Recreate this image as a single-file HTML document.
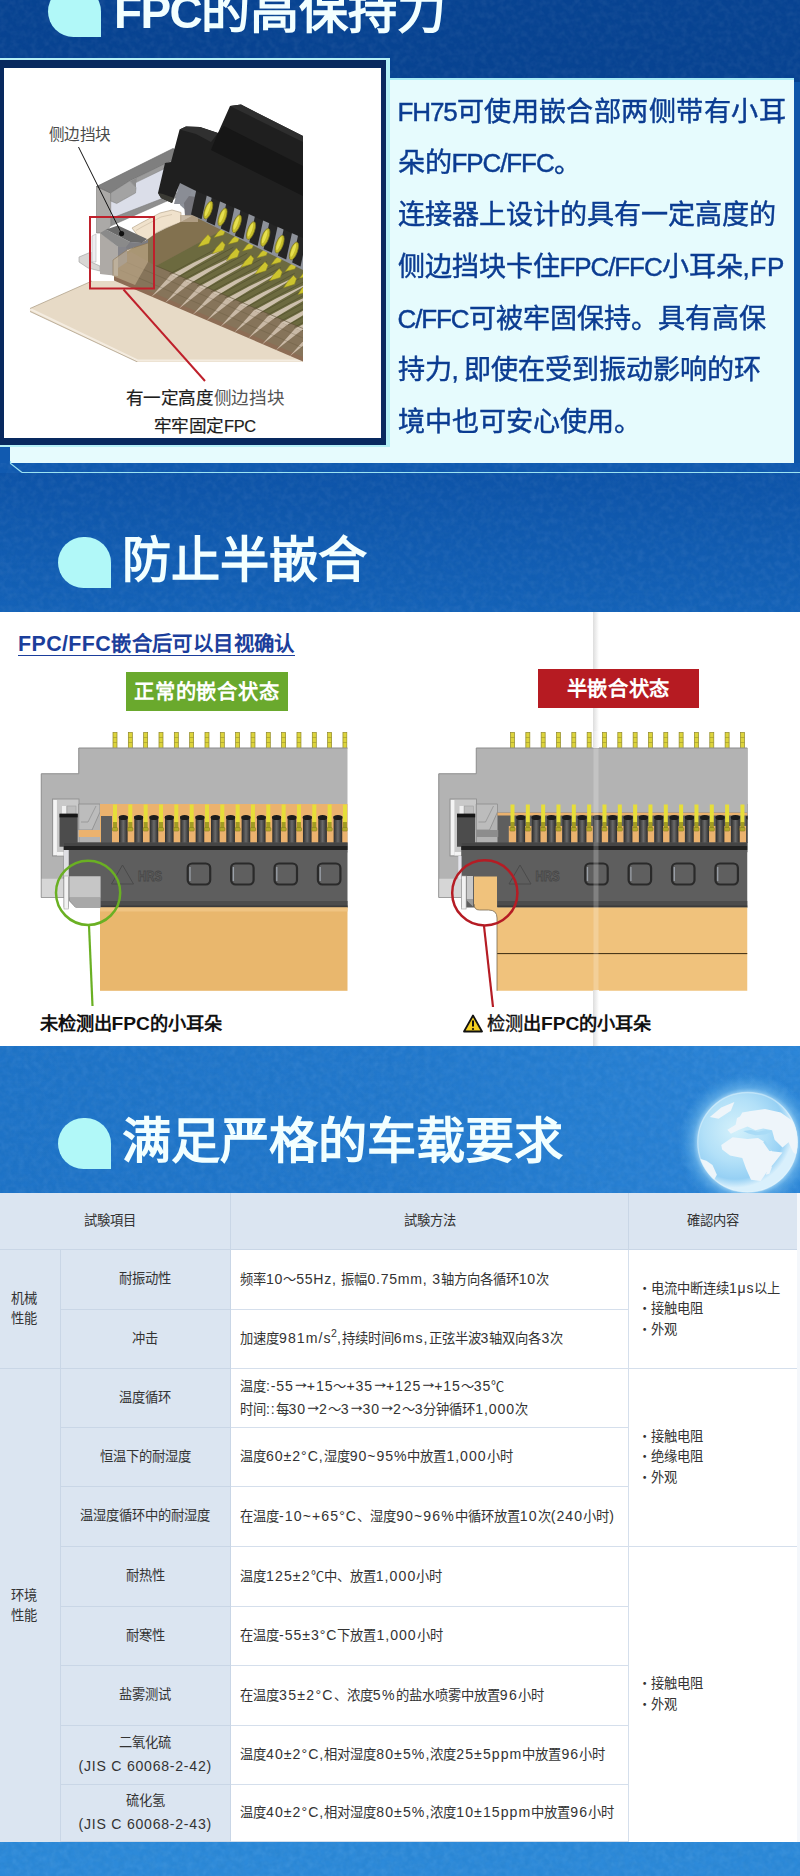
<!DOCTYPE html>
<html lang="zh-CN">
<head>
<meta charset="utf-8">
<title>FH75</title>
<style>
*{box-sizing:border-box;margin:0;padding:0}
html,body{width:800px;height:1876px;overflow:hidden;background:#1460b4}
body{position:relative;font-family:"Liberation Sans",sans-serif;color:#333}
.abs{position:absolute}
.sec{position:absolute;left:0;width:800px}
#s1{top:0;height:463px;background:#084392}
#s1b{top:463px;height:10px;background:#115ab0}
#s2{top:473px;height:139px;background:linear-gradient(#0e54a9,#1563b9)}
#w2{top:612px;height:434px;background:#fff}
#s3{top:1046px;height:148px;background:linear-gradient(90deg,#1f74c8,#2379cd 50%,#2c86d8)}
#s4{top:1842px;height:34px;background:#2d8ad9}
.h{position:absolute;color:#f2ffff;font-size:49.2px;font-weight:700;line-height:50px;white-space:nowrap;letter-spacing:0}
.bul{position:absolute;width:53px;height:51px;background:#b1f8f8;border-radius:26px 26px 0 26px}

.h{-webkit-text-stroke:0}
.h .l{font-size:46px;letter-spacing:-1.7px}
#tp{left:10px;top:78px;width:784px;height:385px;background:#e6fbfd;border-top:2px solid #a8ecf6}
#tpside{left:794px;top:82px;width:6px;height:381px;background:#0f56a9}
#ipo{left:0;top:58px;width:390px;height:389px;background:#b4f0f6}
#ipn{left:0;top:60px;width:386px;height:385px;background:#08295f}
#ipw{left:4px;top:68px;width:377px;height:370px;background:#fff}
#para{left:397.5px;top:85.5px;width:400px;font-size:27.1px;line-height:51.8px;color:#0b3c91;white-space:nowrap;-webkit-text-stroke:0.45px #0b3c91}
#para .l{font-size:26px;letter-spacing:-1.1px;line-height:0}
#para .w{letter-spacing:0.45px}
#ln1{left:22px;top:472px;width:778px;height:1px;background:#9be3f2}

#t2{left:18px;top:632.5px;font-size:20.4px;letter-spacing:.4px;line-height:22px;font-weight:bold;color:#1b3e9b;white-space:nowrap;border-bottom:1.5px solid #1b3e9b;padding-bottom:0}
#t2 .l{font-size:21.4px}
.tag{position:absolute;color:#fff;font-weight:bold;font-size:20.3px;letter-spacing:.7px;text-indent:.7px;text-align:center;white-space:nowrap}
#tagg{left:125.5px;top:672px;width:162px;height:39px;line-height:41.5px;background:#6aa92d}
#tagr{left:537.5px;top:669px;width:161px;height:39px;line-height:41.5px;background:#b61b22}
.cap{position:absolute;font-size:18.2px;line-height:22px;font-weight:bold;color:#111;white-space:nowrap}
.cap .l{font-size:19.2px}

.il{position:absolute;white-space:nowrap;color:#4a4a4a}

#tb{position:absolute;left:0;top:1193px;width:797px;height:649px;background:#fff;font-size:13.3px;color:#333;line-height:20px}
#tbr{position:absolute;left:797px;top:1193px;width:3px;height:649px;background:#f4f7fb}
#tb div{position:absolute;white-space:nowrap}
#tb .c{background:#dbe5f1;display:flex;align-items:center;justify-content:center;text-align:center;border-right:1px solid #c9d6e6;border-bottom:1px solid #c9d6e6}
#tb .w{background:#fff;display:flex;align-items:center;border-right:1px solid #d5dfec;border-bottom:1px solid #d5dfec;padding-left:9px}
#tb i{font-style:normal;font-size:14.1px;letter-spacing:var(--ls,.75px)}
#tb b{font-weight:normal;font-size:17.5px;line-height:0;letter-spacing:-3.5px;margin-left:-1.5px;margin-right:.5px;position:relative;top:-2.6px;-webkit-text-stroke:.25px #333}
#tb sup{font-size:10.5px;line-height:0;vertical-align:6.5px;margin-left:-.5px;letter-spacing:0}
#tb .k{text-align:left;margin-left:-11px;line-height:20px}
#tb .n,#tb .m{line-height:22.5px}
#tb .r{line-height:20.5px}
</style>
</head>
<body>
<div class="sec" id="s1"></div>
<div class="sec" id="s1b"></div>
<div class="sec" id="s2"></div>
<div class="sec" id="w2"></div>
<div class="sec" id="s3"></div>
<div class="sec" id="s4"></div>
<!--NZ-->
<svg class="abs" style="left:0;top:0" width="800" height="1876" viewBox="0 0 800 1876">
<defs><filter id="nz" x="0" y="0" width="100%" height="100%"><feTurbulence type="fractalNoise" baseFrequency="0.16" numOctaves="2" seed="7" result="t"/><feColorMatrix type="matrix" values="0 0 0 0 1  0 0 0 0 1  0 0 0 0 1  1.6 0 0 0 -0.55"/></filter>
<filter id="nz2" x="0" y="0" width="100%" height="100%"><feTurbulence type="fractalNoise" baseFrequency="0.16" numOctaves="2" seed="23" result="t"/><feColorMatrix type="matrix" values="0 0 0 0 0  0 0 0 0 0.1  0 0 0 0 0.3  1.6 0 0 0 -0.55"/></filter></defs>
<g opacity=".07"><rect width="800" height="612" filter="url(#nz)"/><rect y="1046" width="800" height="148" filter="url(#nz)"/><rect y="1842" width="800" height="34" filter="url(#nz)"/></g>
<g opacity=".10"><rect width="800" height="612" filter="url(#nz2)"/><rect y="1046" width="800" height="148" filter="url(#nz2)"/><rect y="1842" width="800" height="34" filter="url(#nz2)"/></g>
</svg>
<!--/NZ-->


<!-- section 1 panels -->
<div class="abs" style="left:0;top:445px;width:12px;height:18px;background:#115ab0"></div>
<div class="abs" id="tp"></div>
<div class="abs" id="tpside"></div>
<div class="abs" id="ln1"></div>
<svg class="abs" style="left:8px;top:461px" width="18" height="14" viewBox="0 0 18 14"><path d="M2.5 0 L2.5 2.5 L14 11.5" fill="none" stroke="#9be3f2" stroke-width="1.2"/></svg>
<div class="abs" id="ipo"></div>
<div class="abs" id="ipn"></div>
<div class="abs" id="ipw"></div>

<!--ILL-->
<svg class="abs" style="left:4px;top:68px" width="377" height="370" viewBox="4 68 377 370">
<defs><clipPath id="ic"><rect x="28" y="100" width="275" height="262"/></clipPath>
</defs>
<g clip-path="url(#ic)">
<path d="M30 308.5 L92 281 L303 281 L303 362 L137.5 362 L30 311.5 Z" fill="#e7dac6"/>
<path d="M30 309L137.5 360.5H303" fill="none" stroke="#f4ece0" stroke-width="2.2"/>
<path d="M30 308.5L92 281M30 311.5L137.5 362" fill="none" stroke="#a89880" stroke-width=".7"/>
<path d="M110.7 199 L116.7 203.5 L135.5 193 L136 182.5 L172 164 L182 166 L182 192 L166 197.5 L110.7 219 Z" fill="#dbdee9"/>
<path d="M110.7 218.5 L166 197 L182 191 L182 195.5 L166 201.5 L110.7 226 Z" fill="#8e8e8e" stroke="#747474" stroke-width=".5"/>
<path d="M96.5 186.5 L110.7 193 L110.7 226 L104 233 L96.5 233 Z" fill="#aba9a7" stroke="#7c7a78" stroke-width=".6"/>
<path d="M96.5 186.5 L173 148.5 L180 151.5 L172 160.5 L136 178 L129.5 181 L110.7 193 Z" fill="#7f7f7f" stroke="#646464" stroke-width=".6"/>
<path d="M110.7 193 L129.5 181 L136 187.7 L135.5 193 L116.7 203.5 L110.7 201 Z" fill="#a3a3a3" stroke="#777" stroke-width=".5"/>
<path d="M136 178 L172 160.5 L172 165 L136 182.5 Z" fill="#9b9b9b" stroke="#777" stroke-width=".4"/>
<path d="M129.5 181 L136 178 L136 187.7 Z" fill="#8d8d8d"/>
<path d="M79 257 L91 252 L91 262 L100 266 L100 271 L88 268 L79 262 Z" fill="#d8d6d4" stroke="#9a9a9a" stroke-width=".6"/>
<path d="M92 236 L96 234 L96 262 L92 262 Z" fill="#ededf0" stroke="#aaa" stroke-width=".5"/>
<path d="M132 228 L140 223.5 L160 213 L172 210 L181 212.5 L181 222 L166 228 L156 233 L147 240 L140 238.5 Z" fill="#f0e2cc" stroke="#b7a78e" stroke-width=".7"/>
<path d="M136 230.5L142 227L161 217L172 214.5" stroke="#c9b99f" stroke-width=".6" fill="none"/>
<path d="M114 258 L128 251 L147 240 L156 233.5 L166 228.5 L180 222.5 L192 216 L303 250 L303 358 L114 277 Z" fill="#86745a"/>
<path d="M114 258 L128 251 L147 240 L156 233.5 L166 228.5 L180 222.5 L192 216 L212 214 L226 228 L156 266 L131 252 L114 262 Z" fill="#82714f"/>
<path d="M156 266 L226 228 L210 213 L303 252 L303 328.5 Z" fill="#6c6a3f"/>
<path d="M114 276 L303 357 L303 361.5 L114 280.5 Z" fill="#8d6d55"/>
<path d="M170.6 275.1 L176.2 277.5 L150.9 297.3 Z" fill="#cfbfad" opacity=".92"/>
<path d="M170.6 275.1 L193.4 262.8 L220.4 249.8 L221 250.9 L195.4 265.8 L176.2 277.5 Z" fill="#d6c8b6" opacity=".92"/>
<path d="M177.4 277.5L233.4 247.3M169.4 274.1L225.4 243.8" stroke="#3f3b20" stroke-width=".5" opacity=".75" fill="none"/>
<path d="M184.4 281 L190.1 283.4 L164.8 303.2 Z" fill="#cfbfad" opacity=".92"/>
<path d="M184.4 281 L207.2 268.7 L234.2 255.7 L234.8 256.8 L209.2 271.7 L190.1 283.4 Z" fill="#d6c8b6" opacity=".92"/>
<path d="M191.2 283.4L247.2 253.2M183.2 280L239.2 249.7" stroke="#3f3b20" stroke-width=".5" opacity=".75" fill="none"/>
<path d="M198.3 286.9 L203.9 289.3 L178.6 309.1 Z" fill="#cfbfad" opacity=".92"/>
<path d="M198.3 286.9 L221.1 274.6 L248.1 261.6 L248.7 262.7 L223.1 277.6 L203.9 289.3 Z" fill="#d6c8b6" opacity=".92"/>
<path d="M205.1 289.3L261.1 259.1M197.1 285.9L253.1 255.6" stroke="#3f3b20" stroke-width=".5" opacity=".75" fill="none"/>
<path d="M212.1 292.9 L217.8 295.3 L192.4 315.1 Z" fill="#cfbfad" opacity=".92"/>
<path d="M212.1 292.9 L234.9 280.6 L261.9 267.6 L262.6 268.7 L236.9 283.6 L217.8 295.3 Z" fill="#d6c8b6" opacity=".92"/>
<path d="M218.9 295.3L274.9 265.1M210.9 291.9L266.9 261.6" stroke="#3f3b20" stroke-width=".5" opacity=".75" fill="none"/>
<path d="M226 298.8 L231.6 301.2 L206.3 321 Z" fill="#cfbfad" opacity=".92"/>
<path d="M226 298.8 L248.8 286.5 L275.8 273.5 L276.4 274.6 L250.8 289.5 L231.6 301.2 Z" fill="#d6c8b6" opacity=".92"/>
<path d="M232.8 301.2L288.8 271M224.8 297.8L280.8 267.5" stroke="#3f3b20" stroke-width=".5" opacity=".75" fill="none"/>
<path d="M239.8 304.7 L245.5 307.1 L220.2 326.9 Z" fill="#cfbfad" opacity=".92"/>
<path d="M239.8 304.7 L262.6 292.4 L289.6 279.4 L290.2 280.5 L264.6 295.4 L245.5 307.1 Z" fill="#d6c8b6" opacity=".92"/>
<path d="M246.7 307.1L302.6 276.9M238.7 303.7L294.6 273.4" stroke="#3f3b20" stroke-width=".5" opacity=".75" fill="none"/>
<path d="M253.7 310.6 L259.3 313 L234 332.8 Z" fill="#cfbfad" opacity=".92"/>
<path d="M253.7 310.6 L276.5 298.3 L303.5 285.3 L304.1 286.4 L278.5 301.3 L259.3 313 Z" fill="#d6c8b6" opacity=".92"/>
<path d="M260.5 313L316.5 282.8M252.5 309.6L308.5 279.3" stroke="#3f3b20" stroke-width=".5" opacity=".75" fill="none"/>
<path d="M267.6 316.5 L273.2 318.9 L247.9 338.7 Z" fill="#cfbfad" opacity=".92"/>
<path d="M267.6 316.5 L290.4 304.2 L317.4 291.2 L318 292.3 L292.4 307.2 L273.2 318.9 Z" fill="#d6c8b6" opacity=".92"/>
<path d="M274.4 318.9L330.4 288.7M266.4 315.5L322.4 285.2" stroke="#3f3b20" stroke-width=".5" opacity=".75" fill="none"/>
<path d="M281.4 322.5 L287 324.9 L261.7 344.7 Z" fill="#cfbfad" opacity=".92"/>
<path d="M281.4 322.5 L304.2 310.2 L331.2 297.2 L331.8 298.3 L306.2 313.2 L287 324.9 Z" fill="#d6c8b6" opacity=".92"/>
<path d="M288.2 324.9L344.2 294.7M280.2 321.5L336.2 291.2" stroke="#3f3b20" stroke-width=".5" opacity=".75" fill="none"/>
<path d="M295.2 328.4 L300.9 330.8 L275.6 350.6 Z" fill="#cfbfad" opacity=".92"/>
<path d="M295.2 328.4 L318.1 316.1 L345.1 303.1 L345.7 304.2 L320.1 319.1 L300.9 330.8 Z" fill="#d6c8b6" opacity=".92"/>
<path d="M302.1 330.8L358.1 300.6M294.1 327.4L350.1 297.1" stroke="#3f3b20" stroke-width=".5" opacity=".75" fill="none"/>
<path d="M309.1 334.3 L314.7 336.7 L289.4 356.5 Z" fill="#cfbfad" opacity=".92"/>
<path d="M309.1 334.3 L331.9 322 L358.9 309 L359.5 310.1 L333.9 325 L314.7 336.7 Z" fill="#d6c8b6" opacity=".92"/>
<path d="M315.9 336.7L371.9 306.5M307.9 333.3L363.9 303" stroke="#3f3b20" stroke-width=".5" opacity=".75" fill="none"/>
<path d="M322.9 340.2 L328.6 342.6 L303.2 362.4 Z" fill="#cfbfad" opacity=".92"/>
<path d="M322.9 340.2 L345.8 327.9 L372.8 314.9 L373.4 316 L347.8 330.9 L328.6 342.6 Z" fill="#d6c8b6" opacity=".92"/>
<path d="M329.8 342.6L385.8 312.4M321.8 339.2L377.8 308.9" stroke="#3f3b20" stroke-width=".5" opacity=".75" fill="none"/>
<path d="M155.6 265.6L303 328.5" stroke="#5a4e34" stroke-width=".7" opacity=".8"/>
<path d="M120 270L303 348M126 262L303 338" stroke="#5a4e34" stroke-width=".45" opacity=".6" fill="none"/>
<path d="M198 247 L202 241 L208 234.5 L211 238 L209 243.5 Z" fill="#cdc42e" stroke="#8a8420" stroke-width=".5"/>
<path d="M212.2 253.8 L216.2 247.8 L222.2 241.3 L225.2 244.8 L223.2 250.3 Z" fill="#cdc42e" stroke="#8a8420" stroke-width=".5"/>
<path d="M226.5 260.6 L230.5 254.6 L236.5 248.1 L239.5 251.6 L237.5 257.1 Z" fill="#cdc42e" stroke="#8a8420" stroke-width=".5"/>
<path d="M240.8 267.4 L244.8 261.4 L250.8 254.9 L253.8 258.4 L251.8 263.9 Z" fill="#cdc42e" stroke="#8a8420" stroke-width=".5"/>
<path d="M255 274.2 L259 268.2 L265 261.7 L268 265.2 L266 270.7 Z" fill="#cdc42e" stroke="#8a8420" stroke-width=".5"/>
<path d="M269.2 281 L273.2 275 L279.2 268.5 L282.2 272 L280.2 277.5 Z" fill="#cdc42e" stroke="#8a8420" stroke-width=".5"/>
<path d="M283.5 287.8 L287.5 281.8 L293.5 275.3 L296.5 278.8 L294.5 284.3 Z" fill="#cdc42e" stroke="#8a8420" stroke-width=".5"/>
<path d="M297.8 294.6 L301.8 288.6 L307.8 282.1 L310.8 285.6 L308.8 291.1 Z" fill="#cdc42e" stroke="#8a8420" stroke-width=".5"/>
<path d="M214 237.5 L218 232 L223 227.5 L225.5 230.5 L223.5 235 Z" fill="#cdc42e" stroke="#8a8420" stroke-width=".5"/>
<path d="M228.2 244.3 L232.2 238.8 L237.2 234.3 L239.8 237.3 L237.8 241.8 Z" fill="#cdc42e" stroke="#8a8420" stroke-width=".5"/>
<path d="M242.5 251.1 L246.5 245.6 L251.5 241.1 L254 244.1 L252 248.6 Z" fill="#cdc42e" stroke="#8a8420" stroke-width=".5"/>
<path d="M256.8 257.9 L260.8 252.4 L265.8 247.9 L268.2 250.9 L266.2 255.4 Z" fill="#cdc42e" stroke="#8a8420" stroke-width=".5"/>
<path d="M271 264.7 L275 259.2 L280 254.7 L282.5 257.7 L280.5 262.2 Z" fill="#cdc42e" stroke="#8a8420" stroke-width=".5"/>
<path d="M285.2 271.5 L289.2 266 L294.2 261.5 L296.8 264.5 L294.8 269 Z" fill="#cdc42e" stroke="#8a8420" stroke-width=".5"/>
<path d="M299.5 278.3 L303.5 272.8 L308.5 268.3 L311 271.3 L309 275.8 Z" fill="#cdc42e" stroke="#8a8420" stroke-width=".5"/>
<path d="M313.8 285.1 L317.8 279.6 L322.8 275.1 L325.2 278.1 L323.2 282.6 Z" fill="#cdc42e" stroke="#8a8420" stroke-width=".5"/>
<path d="M100 232 L118 247 L118 276 L100 274 Z" fill="#aeaaa6"/>
<path d="M118 247 L127 246.5 L127 262 L118 268 Z" fill="#85858b"/>
<path d="M100 233 L106 229.5 L131 242.5 L127 247 L118 247 Z" fill="#8a8a8a"/>
<path d="M106 229.5 L118 225.5 L147 239 L142 243 L131 242.5 Z" fill="#696969"/>
<path d="M126 247 L130 242 L142 243 L148 239.5 L148 243 L127 250 Z" fill="#7d7d82"/>
<path d="M113 260 L127 250 L148 243 L148 262 L135 285 L113 276 Z" fill="#cbb594" opacity=".55"/>
<path d="M113 260L127 250L148 243M113 260V276" stroke="#8a7658" stroke-width=".6" fill="none"/>
<path d="M178 178 L303 232 L303 270 L191 215 L180 205 Z" fill="#8d9199"/>
<path d="M180 181 L193 187 L186 204 L174 204 Z" fill="#8a8d95"/>
<path d="M184 203 L189 196 L196 197 L196 216 L185 216 Z" fill="#74747a"/>
<path d="M180 215 L198 215 L198 222 L180 222 Z" fill="#b9a88e" opacity=".8"/>
<path d="M191 214.4 L197.5 184.4 L208.1 189.3 L201.6 219.3 Z" fill="#252525"/>
<path d="M206.5 221.8 L213 191.8 L221.3 195.6 L214.8 225.6 Z" fill="#252525"/>
<path d="M220.8 228.6 L227.3 198.6 L235.6 202.4 L229.1 232.4 Z" fill="#252525"/>
<path d="M235 235.4 L241.5 205.4 L249.8 209.2 L243.3 239.2 Z" fill="#252525"/>
<path d="M249.3 242.2 L255.8 212.2 L264.1 216 L257.6 246 Z" fill="#252525"/>
<path d="M263.6 249 L270.1 219 L278.4 222.8 L271.9 252.8 Z" fill="#252525"/>
<path d="M277.9 255.8 L284.4 225.8 L292.7 229.6 L286.2 259.6 Z" fill="#252525"/>
<path d="M292.2 262.6 L298.7 232.6 L307 236.4 L300.5 266.4 Z" fill="#252525"/>
<path d="M306.4 269.4 L312.9 239.4 L321.2 243.2 L314.7 273.2 Z" fill="#252525"/>
<ellipse cx="208.2" cy="210.2" rx="3.5" ry="9.4" transform="rotate(20 208.2 210.2)" fill="#c6bd2a" stroke="#7e781e" stroke-width=".7"/>
<ellipse cx="207.4" cy="209.7" rx="1.6" ry="7" transform="rotate(20 208.2 210.2)" fill="#eee85a" opacity=".8"/>
<ellipse cx="222.5" cy="217" rx="3.5" ry="9.4" transform="rotate(20 222.5 217)" fill="#c6bd2a" stroke="#7e781e" stroke-width=".7"/>
<ellipse cx="221.7" cy="216.5" rx="1.6" ry="7" transform="rotate(20 222.5 217)" fill="#eee85a" opacity=".8"/>
<ellipse cx="236.8" cy="223.8" rx="3.5" ry="9.4" transform="rotate(20 236.8 223.8)" fill="#c6bd2a" stroke="#7e781e" stroke-width=".7"/>
<ellipse cx="236" cy="223.3" rx="1.6" ry="7" transform="rotate(20 236.8 223.8)" fill="#eee85a" opacity=".8"/>
<ellipse cx="251" cy="230.6" rx="3.5" ry="9.4" transform="rotate(20 251 230.6)" fill="#c6bd2a" stroke="#7e781e" stroke-width=".7"/>
<ellipse cx="250.2" cy="230.1" rx="1.6" ry="7" transform="rotate(20 251 230.6)" fill="#eee85a" opacity=".8"/>
<ellipse cx="265.3" cy="237.4" rx="3.5" ry="9.4" transform="rotate(20 265.3 237.4)" fill="#c6bd2a" stroke="#7e781e" stroke-width=".7"/>
<ellipse cx="264.5" cy="236.9" rx="1.6" ry="7" transform="rotate(20 265.3 237.4)" fill="#eee85a" opacity=".8"/>
<ellipse cx="279.6" cy="244.2" rx="3.5" ry="9.4" transform="rotate(20 279.6 244.2)" fill="#c6bd2a" stroke="#7e781e" stroke-width=".7"/>
<ellipse cx="278.8" cy="243.7" rx="1.6" ry="7" transform="rotate(20 279.6 244.2)" fill="#eee85a" opacity=".8"/>
<ellipse cx="293.9" cy="251" rx="3.5" ry="9.4" transform="rotate(20 293.9 251)" fill="#c6bd2a" stroke="#7e781e" stroke-width=".7"/>
<ellipse cx="293.1" cy="250.5" rx="1.6" ry="7" transform="rotate(20 293.9 251)" fill="#eee85a" opacity=".8"/>
<ellipse cx="308.2" cy="257.8" rx="3.5" ry="9.4" transform="rotate(20 308.2 257.8)" fill="#c6bd2a" stroke="#7e781e" stroke-width=".7"/>
<ellipse cx="307.4" cy="257.3" rx="1.6" ry="7" transform="rotate(20 308.2 257.8)" fill="#eee85a" opacity=".8"/>
<ellipse cx="322.4" cy="264.6" rx="3.5" ry="9.4" transform="rotate(20 322.4 264.6)" fill="#c6bd2a" stroke="#7e781e" stroke-width=".7"/>
<ellipse cx="321.6" cy="264.1" rx="1.6" ry="7" transform="rotate(20 322.4 264.6)" fill="#eee85a" opacity=".8"/>
<path d="M179.6 129.4 L186 126.6 L200 127 L218 133 L230 106 L241 104.6 L303 136 L303 238 L194 190 L180 183 L172 203 L161 198 L158 193 L165 163 L171 162 Z" fill="#1f1f1f"/>
<path d="M179.6 129.4 L186 126.6 L200 127 L218 133 L211 142 L196 134 Z" fill="#303030"/>
<path d="M230 106 L241 104.6 L303 136 L303 142 L238 110 Z" fill="#2e2e2e"/>
<path d="M218 133 L224 126 L303 166 L303 196 L211 150 Z" fill="#161616"/>
<path d="M158 193 L161 198 L172 203 L174 198 L163 194 Z" fill="#3a3a34"/>
</g>
<rect x="90" y="217" width="64" height="71.5" fill="none" stroke="#bf202b" stroke-width="2"/>
<path d="M123.5 289.5L205 381" stroke="#bf202b" stroke-width="2"/>
<path d="M78.5 147L121.3 233" stroke="#111" stroke-width="1"/><circle cx="121.6" cy="233.6" r="2.6" fill="#111"/>
</svg>
<!--/ILL-->
<div class="il" style="left:49px;top:126px;font-size:15.6px;letter-spacing:-.7px;line-height:18px">侧边挡块</div>
<div class="il" style="left:125.5px;top:386.7px;font-size:17.6px;letter-spacing:-.35px;line-height:22px;color:#1d1d1d"><span style="-webkit-text-stroke:.2px #1d1d1d">有一定高度</span><span style="color:#555">侧边挡块</span></div>
<div class="il" style="left:153.5px;top:415.2px;font-size:17.6px;letter-spacing:-.35px;line-height:22px;color:#1d1d1d;-webkit-text-stroke:.2px #1d1d1d">牢牢固定<span style="font-size:16.4px">FPC</span></div>
<div class="abs" id="para"><span class="w"><span class="l">FH75</span>可使用嵌合部两侧带有小耳</span><br>朵的<span class="l">FPC/FFC</span>。<br>连接器上设计的具有一定高度的<br>侧边挡块卡住<span class="l">FPC/FFC</span>小耳朵<span class="l" style="letter-spacing:.6px">,FP</span><br><span class="l">C/FFC</span>可被牢固保持。具有高保<br>持力<span class="l">, </span>即使在受到振动影响的环<br>境中也可安心使用。</div>

<!-- heading 1 -->
<div class="bul" style="left:48px;top:-14px"></div>
<div class="h" style="left:114px;top:-14.5px"><span class="l">FPC</span>的高保持力</div>


<!-- section 2 -->
<!--CONN-->
<svg class="abs" style="left:0;top:612px" width="800" height="434" viewBox="0 612 800 434">
<defs>
<linearGradient id="cy" x1="0" x2="1" y1="0" y2="0"><stop offset="0" stop-color="#2c2c2c"/><stop offset=".5" stop-color="#6a6a6a"/><stop offset="1" stop-color="#2c2c2c"/></linearGradient>
<linearGradient id="st" x1="0" x2="1" y1="0" y2="0"><stop offset="0" stop-color="#d9d9d9"/><stop offset="1" stop-color="#fff"/></linearGradient>
<g id="tpin"><rect x="-2" y="732.5" width="4" height="16" fill="#ddd43c" stroke="#8f8826" stroke-width=".7"/><path d="M-2 737.5h4M-2 742.5h4" stroke="#9a932c" stroke-width=".6"/></g>
<g id="ipin"><rect x="4" y="816" width="8.6" height="27" fill="url(#cy)"/><ellipse cx="8.3" cy="817.5" rx="4.6" ry="2.6" fill="#1c1c1c"/><rect x="-2" y="804.5" width="4" height="18" fill="#e6de3a"/><rect x="-2" y="822" width="4" height="7" fill="#a39c22"/><rect x="-2.6" y="827.5" width="5.2" height="3.6" rx="1" fill="#b3a92a" stroke="#7d761c" stroke-width=".5"/></g>
<g id="hole"><rect x="0" y="863.5" width="22.5" height="21" rx="4.5" fill="#5f5f5f" stroke="#2a2a2a" stroke-width="2.2"/><path d="M2.3 867v14" stroke="#9aa0a8" stroke-width="1.3" fill="none"/></g>
<g id="conn"><use href="#tpin" x="115"/><use href="#tpin" x="130.33"/><use href="#tpin" x="145.66"/><use href="#tpin" x="160.99"/><use href="#tpin" x="176.32"/><use href="#tpin" x="191.65"/><use href="#tpin" x="206.98"/><use href="#tpin" x="222.31"/><use href="#tpin" x="237.64"/><use href="#tpin" x="252.97"/><use href="#tpin" x="268.3"/><use href="#tpin" x="283.63"/><use href="#tpin" x="298.96"/><use href="#tpin" x="314.29"/><use href="#tpin" x="329.62"/><use href="#tpin" x="344.95"/><path d="M78.75 748H350V852H63.75V897.5H41.25V773.75H78.75Z" fill="#b3b3b3" stroke="#8c8c8c" stroke-width="1"/><rect x="41.75" y="878.75" width="22" height="18.5" fill="#d6d6d6"/><rect x="52.5" y="799" width="26.5" height="57" fill="#c9c9c9" stroke="#8c8c8c" stroke-width=".8"/><rect x="53.3" y="800" width="3.6" height="55" fill="#f4f4f4"/><rect x="57" y="852" width="7" height="3.5" fill="#f4f4f4"/><rect x="62" y="806" width="4" height="8" fill="#f0f0f0"/><rect x="67" y="806" width="9" height="8" fill="#bdbdbd" stroke="#999" stroke-width=".5"/><rect x="59.5" y="813.75" width="18.2" height="33" fill="#4c4c4c"/><rect x="59.5" y="813.75" width="18.2" height="3.6" fill="#161616"/><path d="M78.75 804H100V812L92 830H78.75Z" fill="#bcbcbc" stroke="#8c8c8c" stroke-width=".8"/><path d="M81 822H88L96 806" fill="none" stroke="#8c8c8c" stroke-width=".7"/></g>
<g id="dark"><rect x="63.75" y="842.5" width="286.25" height="65" fill="#5e5e5e"/><rect x="63.75" y="842.5" width="286.25" height="3.5" fill="#454545"/><rect x="63.75" y="846" width="286.25" height="4" fill="#212121"/><rect x="100" y="901" width="250" height="6.5" fill="#4c4c4c"/><rect x="100" y="905.5" width="250" height="2" fill="#3a3a3a"/><use href="#hole" x="187.7"/><use href="#hole" x="231.1"/><use href="#hole" x="274.5"/><use href="#hole" x="317.9"/><path d="M111.5 884L122.5 865L133.5 884Z" fill="none" stroke="#4a4a4a" stroke-width="1"/><text x="138" y="881" font-family="Liberation Sans,sans-serif" font-weight="bold" font-size="14" textLength="24" lengthAdjust="spacingAndGlyphs" fill="#5e5e5e" stroke="#474747" stroke-width=".9">HRS</text></g>
</defs>
<g clip-path="url(#clipL)">
<clipPath id="clipL"><rect x="30" y="725" width="317.5" height="272"/></clipPath>
<use href="#conn"/>
<rect x="100" y="804" width="250" height="39" fill="#ebb26e"/>
<rect x="78.75" y="830" width="22" height="7" fill="#ebb26e"/>
<rect x="101" y="816" width="11" height="27" fill="#5c5c5c"/>
<use href="#ipin" x="115"/><use href="#ipin" x="130.33"/><use href="#ipin" x="145.66"/><use href="#ipin" x="160.99"/><use href="#ipin" x="176.32"/><use href="#ipin" x="191.65"/><use href="#ipin" x="206.98"/><use href="#ipin" x="222.31"/><use href="#ipin" x="237.64"/><use href="#ipin" x="252.97"/><use href="#ipin" x="268.3"/><use href="#ipin" x="283.63"/><use href="#ipin" x="298.96"/><use href="#ipin" x="314.29"/><use href="#ipin" x="329.62"/><use href="#ipin" x="344.95"/>
<use href="#dark"/>
<rect x="100" y="907.5" width="250" height="83.3" fill="#e9b76d"/>
<rect x="100" y="907.5" width="250" height="4" fill="#f0c482"/>
<rect x="63.75" y="850" width="5" height="27" fill="#dedee2"/>
<rect x="69.3" y="876.25" width="31.3" height="21.5" fill="#c6c6c6"/>
<path d="M69.3 897.5H100.6V908H76L69.3 900.5Z" fill="#a8a8a8"/><path d="M68.8 900.5L76 908.2H68.8Z" fill="#fff"/>
<rect x="64" y="876" width="4.6" height="33" fill="#f2f2f2" stroke="#a0a0a0" stroke-width=".6"/>
</g>
<circle cx="88.1" cy="892.8" r="32.1" fill="none" stroke="#6ab023" stroke-width="2.5"/>
<path d="M89 925.5L92.5 1006" stroke="#6ab023" stroke-width="2.2"/>
<g clip-path="url(#clipR)"><g transform="translate(397.5 0)">
<clipPath id="clipR"><rect x="427" y="725" width="320.5" height="272"/></clipPath>
<use href="#conn"/>
<rect x="100" y="804" width="250" height="39" fill="#5e5e5e"/>
<rect x="100" y="812.5" width="250" height="3" fill="#ebb26e"/>
<rect x="100" y="804" width="250" height="8.5" fill="#b3b3b3"/>
<rect x="78.75" y="830" width="22" height="7" fill="#8d8d8d"/>
<rect x="111.3" y="826" width="7.4" height="17" fill="#ebb26e"/><rect x="126.63" y="826" width="7.4" height="17" fill="#ebb26e"/><rect x="141.96" y="826" width="7.4" height="17" fill="#ebb26e"/><rect x="157.29" y="826" width="7.4" height="17" fill="#ebb26e"/><rect x="172.62" y="826" width="7.4" height="17" fill="#ebb26e"/><rect x="187.95" y="826" width="7.4" height="17" fill="#ebb26e"/><rect x="203.28" y="826" width="7.4" height="17" fill="#ebb26e"/><rect x="218.61" y="826" width="7.4" height="17" fill="#ebb26e"/><rect x="233.94" y="826" width="7.4" height="17" fill="#ebb26e"/><rect x="249.27" y="826" width="7.4" height="17" fill="#ebb26e"/><rect x="264.6" y="826" width="7.4" height="17" fill="#ebb26e"/><rect x="279.93" y="826" width="7.4" height="17" fill="#ebb26e"/><rect x="295.26" y="826" width="7.4" height="17" fill="#ebb26e"/><rect x="310.59" y="826" width="7.4" height="17" fill="#ebb26e"/><rect x="325.92" y="826" width="7.4" height="17" fill="#ebb26e"/><rect x="341.25" y="826" width="7.4" height="17" fill="#ebb26e"/>
<use href="#ipin" x="115"/><use href="#ipin" x="130.33"/><use href="#ipin" x="145.66"/><use href="#ipin" x="160.99"/><use href="#ipin" x="176.32"/><use href="#ipin" x="191.65"/><use href="#ipin" x="206.98"/><use href="#ipin" x="222.31"/><use href="#ipin" x="237.64"/><use href="#ipin" x="252.97"/><use href="#ipin" x="268.3"/><use href="#ipin" x="283.63"/><use href="#ipin" x="298.96"/><use href="#ipin" x="314.29"/><use href="#ipin" x="329.62"/><use href="#ipin" x="344.95"/>
<use href="#dark"/>
<path d="M76.5 876.5H99.5V907.5H350V990.8H99.5V918Q99.5 910 91 910H82Q76.5 910 76.5 904Z" fill="#f0c27c"/>
<path d="M99.5 953.6H350" stroke="#3a2a10" stroke-width="1"/>
<path d="M99.5 990.8V918Q99.5 910 91 910H82Q76.5 910 76.5 904" fill="none" stroke="#7a6a50" stroke-width=".8"/>
<rect x="60.8" y="856" width="3.2" height="23" fill="#e4e4ec"/>
<rect x="64" y="876" width="4.6" height="33" fill="#f2f2f2" stroke="#a0a0a0" stroke-width=".6"/>
<rect x="69.3" y="876" width="6.2" height="23" fill="#c9c9c9"/><path d="M69.3 899H75.5V906.5L69.3 900.5Z" fill="#9a9a9a"/>
</g></g>
<circle cx="484.8" cy="892.9" r="32.6" fill="none" stroke="#b51c24" stroke-width="2.5"/>
<path d="M484 926L493 1007" stroke="#b51c24" stroke-width="2.2"/>
<rect x="593" y="612" width="6" height="136" fill="url(#st)" opacity=".9"/><rect x="593" y="990" width="6" height="56" fill="url(#st)" opacity=".9"/><rect x="593.5" y="731" width="5" height="259" fill="#fff" opacity=".22"/>
<path d="M473 1015.5L482 1031.5H464Z" fill="#f4d020" stroke="#111" stroke-width="1.8" stroke-linejoin="round"/><path d="M473 1020.5v6" stroke="#111" stroke-width="2"/><circle cx="473" cy="1029" r="1.1" fill="#111"/>
</svg>
<!--/CONN-->
<div class="abs" id="t2"><span class="l">FPC/FFC</span>嵌合后可以目视确认</div>
<div class="tag" id="tagg">正常的嵌合状态</div>
<div class="tag" id="tagr">半嵌合状态</div>
<div class="cap" style="left:39.5px;top:1013.2px">未检测出<span class="l">FPC</span>的小耳朵</div>
<div class="cap" style="left:487px;top:1013.2px"><span style="font-weight:normal;-webkit-text-stroke:.35px #111">检测</span>出<span class="l">FPC</span>的小耳朵</div>

<!-- heading 2 -->
<div class="bul" style="left:58px;top:537px"></div>
<div class="h" style="left:122px;top:534.5px">防止半嵌合</div>


<!-- table -->
<!--TB-->
<div id="tb">
<div class="c" style="left:0px;top:0px;width:231px;height:57px;padding-right:11px">試験項目</div>
<div class="c" style="left:231px;top:0px;width:398px;height:57px;">試験方法</div>
<div class="c" style="left:629px;top:0px;width:168px;height:57px;border-right:0">確認内容</div>
<div class="c" style="left:0px;top:57px;width:60.5px;height:119px;"><span class="k">机械<br>性能</span></div>
<div class="c" style="left:0px;top:176px;width:60.5px;height:473px;border-bottom:0"><span class="k">环境<br>性能</span></div>
<div class="c" style="left:60.5px;top:57px;width:170.5px;height:60px;"><span class="n">耐振动性</span></div>
<div class="w" style="left:231px;top:57px;width:398px;height:60px;"><span class="m" id="m0" style="--ls:0.75px">频率<i>10</i>～<i>55Hz, </i>振幅<i>0.75mm, 3</i>轴方向各循环<i>10</i>次</span></div>
<div class="c" style="left:60.5px;top:117px;width:170.5px;height:59px;"><span class="n">冲击</span></div>
<div class="w" style="left:231px;top:117px;width:398px;height:59px;"><span class="m" id="m1" style="--ls:1.05px">加速度<i>981m/s<sup>2</sup>,</i>持续时间<i>6ms,</i>正弦半波<i>3</i>轴双向各<i>3</i>次</span></div>
<div class="c" style="left:60.5px;top:176px;width:170.5px;height:59px;"><span class="n">温度循环</span></div>
<div class="w" style="left:231px;top:176px;width:398px;height:59px;"><span class="m" id="m2" style="--ls:0.88px">温度<i>:-55</i><b>→</b><i>+15</i>～<i>+35</i><b>→</b><i>+125</i><b>→</b><i>+15</i>～<i>35</i>℃<br>时间<i>::</i>每<i>30</i><b>→</b><i>2</i>～<i>3</i><b>→</b><i>30</i><b>→</b><i>2</i>～<i>3</i>分钟循环<i>1,000</i>次</span></div>
<div class="c" style="left:60.5px;top:235px;width:170.5px;height:59px;"><span class="n">恒温下的耐湿度</span></div>
<div class="w" style="left:231px;top:235px;width:398px;height:59px;"><span class="m" id="m3" style="--ls:0.95px">温度<i>60±2°C,</i>湿度<i>90~95%</i>中放置<i>1,000</i>小时</span></div>
<div class="c" style="left:60.5px;top:294px;width:170.5px;height:60px;"><span class="n">温湿度循环中的耐湿度</span></div>
<div class="w" style="left:231px;top:294px;width:398px;height:60px;"><span class="m" id="m4" style="--ls:1.09px">在温度<i>-10~+65°C</i>、湿度<i>90~96%</i>中循环放置<i>10</i>次<i>(240</i>小时<i>)</i></span></div>
<div class="c" style="left:60.5px;top:354px;width:170.5px;height:60px;"><span class="n">耐热性</span></div>
<div class="w" style="left:231px;top:354px;width:398px;height:60px;"><span class="m" id="m5" style="--ls:1.11px">温度<i>125±2</i>℃中、放置<i>1,000</i>小时</span></div>
<div class="c" style="left:60.5px;top:414px;width:170.5px;height:59px;"><span class="n">耐寒性</span></div>
<div class="w" style="left:231px;top:414px;width:398px;height:59px;"><span class="m" id="m6" style="--ls:0.96px">在温度<i>-55±3°C</i>下放置<i>1,000</i>小时</span></div>
<div class="c" style="left:60.5px;top:473px;width:170.5px;height:60px;"><span class="n">盐雾测试</span></div>
<div class="w" style="left:231px;top:473px;width:398px;height:60px;"><span class="m" id="m7" style="--ls:1.29px">在温度<i>35±2°C</i>、浓度<i>5%</i>的盐水喷雾中放置<i>96</i>小时</span></div>
<div class="c" style="left:60.5px;top:533px;width:170.5px;height:59px;"><span class="n">二氧化硫<br><i>(JIS C 60068-2-42)</i></span></div>
<div class="w" style="left:231px;top:533px;width:398px;height:59px;"><span class="m" id="m8" style="--ls:1.05px">温度<i>40±2°C,</i>相对湿度<i>80±5%,</i>浓度<i>25±5ppm</i>中放置<i>96</i>小时</span></div>
<div class="c" style="left:60.5px;top:592px;width:170.5px;height:57px;"><span class="n">硫化氢<br><i>(JIS C 60068-2-43)</i></span></div>
<div class="w" style="left:231px;top:592px;width:398px;height:57px;"><span class="m" id="m9" style="--ls:1.05px">温度<i>40±2°C,</i>相对湿度<i>80±5%,</i>浓度<i>10±15ppm</i>中放置<i>96</i>小时</span></div>
<div class="w" style="left:629px;top:57px;width:168px;height:119px;border-right:0"><span class="r">・电流中断连续<i>1μs</i>以上<br>・接触电阻<br>・外观</span></div>
<div class="w" style="left:629px;top:176px;width:168px;height:178px;border-right:0"><span class="r">・接触电阻<br>・绝缘电阻<br>・外观</span></div>
<div class="w" style="left:629px;top:354px;width:168px;height:295px;border-right:0;border-bottom:0"><span class="r">・接触电阻<br>・外观</span></div>
</div><div id="tbr"></div>
<!--/TB-->


<!-- globe -->
<svg class="abs" style="left:660px;top:1060px" width="140" height="133" viewBox="0 0 800 760">
<defs>
<radialGradient id="gg" cx="500" cy="470" r="400" gradientUnits="userSpaceOnUse"><stop offset=".68" stop-color="#c9ecfc" stop-opacity=".9"/><stop offset=".78" stop-color="#8fd0f6" stop-opacity=".45"/><stop offset="1" stop-color="#4aa4e6" stop-opacity="0"/></radialGradient>
<radialGradient id="gs" cx="430" cy="400" r="330" gradientUnits="userSpaceOnUse"><stop offset="0" stop-color="#d4f1fb"/><stop offset=".55" stop-color="#b2e0f8"/><stop offset=".85" stop-color="#96d0f4"/><stop offset="1" stop-color="#d9f0fc"/></radialGradient>
<clipPath id="gc"><circle cx="500" cy="470" r="286"/></clipPath>
</defs>
<circle cx="500" cy="470" r="400" fill="url(#gg)"/>
<circle cx="500" cy="470" r="286" fill="url(#gs)"/>
<g clip-path="url(#gc)" fill="#eef5fa">
<path d="M350 485L415 442L500 452L560 446L600 470L640 522L700 528L655 585L610 640L575 692L520 684L492 622L470 560L400 545L355 512Z"/>
<path d="M440 332L520 292L600 280L690 300L760 350L800 420L800 560L760 525L735 470L700 500L655 455L640 402L590 392L545 402L500 380L445 402L405 422L385 398L432 370Z"/>
<path d="M450 335L470 300L520 292L500 330Z"/>
<path d="M285 325L350 272L425 240L405 290L335 335Z"/>
<path d="M215 560L265 575L300 600L325 655L300 700L255 650Z"/>
<path d="M620 600L640 610L625 650L605 655Z"/>
</g>
<g clip-path="url(#gc)" fill="#a9dbf6"><path d="M475 405L520 400L560 410L610 400L640 410L600 425L545 430L505 420Z"/><path d="M590 470L600 460L640 520L625 520Z"/></g>
<circle cx="500" cy="470" r="284" fill="none" stroke="#e6f6fd" stroke-width="8" opacity=".45"/>
</svg>

<!-- heading 3 -->
<div class="bul" style="left:58px;top:1118px"></div>
<div class="h" style="left:122px;top:1115.5px">满足严格的车载要求</div>

</body>
</html>
